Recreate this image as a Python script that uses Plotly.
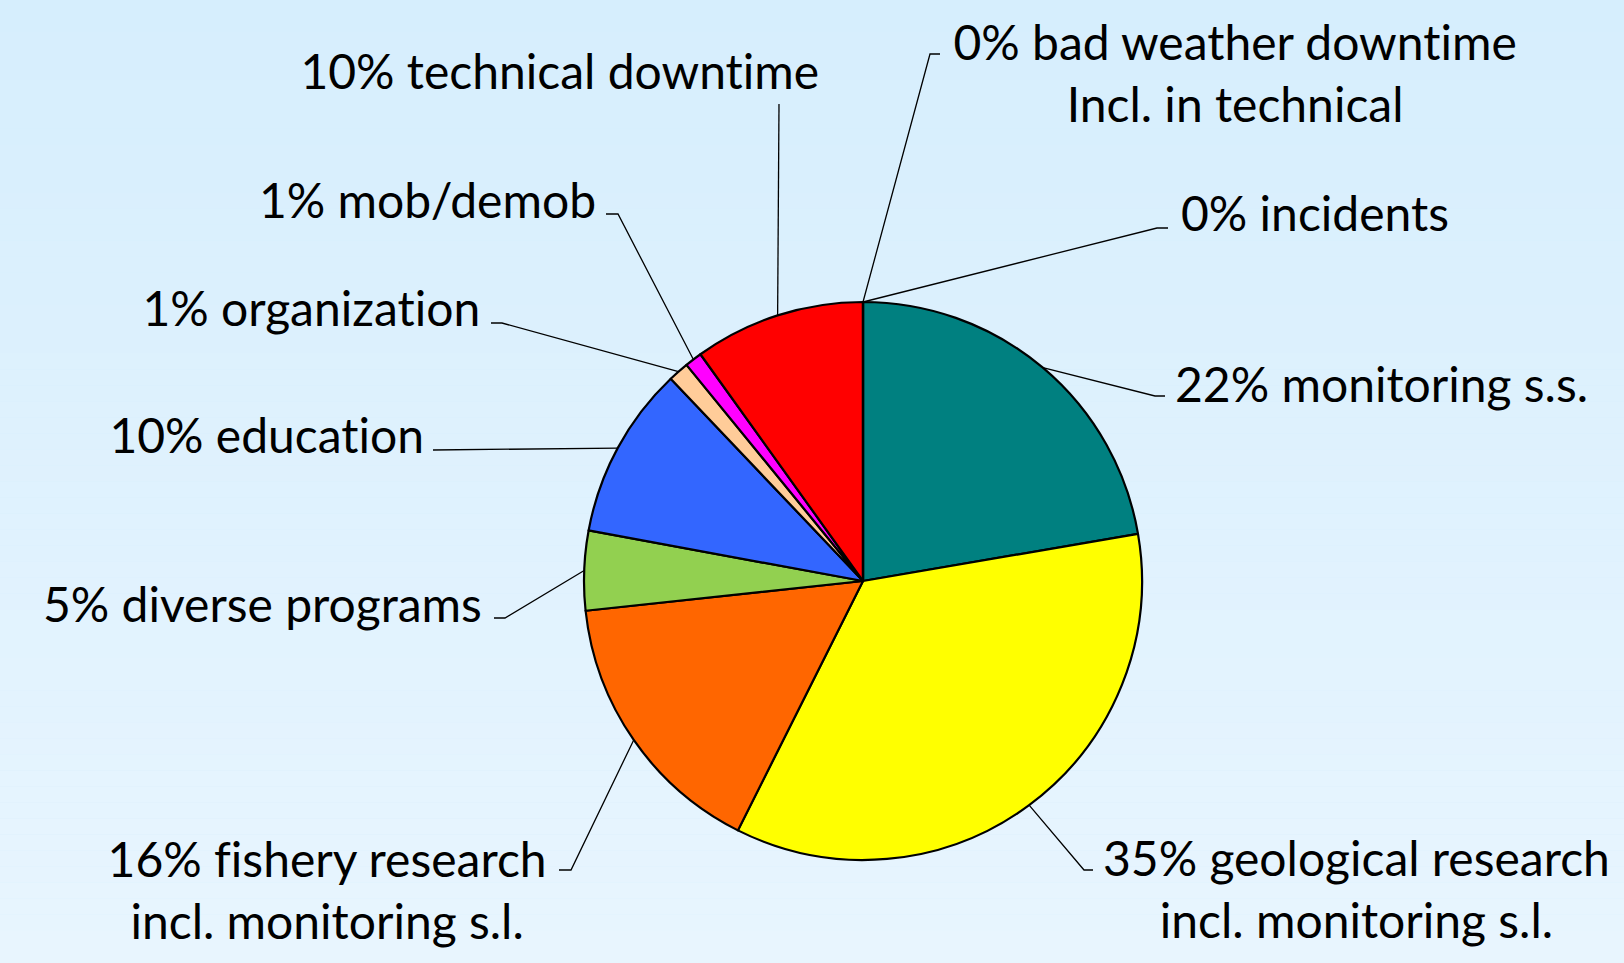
import math
import plotly.graph_objects as go

# ---- data ----
names = ["monitoring s.s.", "geological research<br>incl. monitoring s.l.",
         "fishery research<br>incl. monitoring s.l.", "diverse programs", "education",
         "organization", "mob/demob", "technical downtime",
         "bad weather downtime<br>Incl. in technical", "incidents"]
values = [22.3, 35.1, 15.9, 4.6, 10.0, 1.2, 1.0, 9.9, 0.0, 0.0]
colors = ["#008080", "#FFFF00", "#FF6600", "#92D050", "#3366FF",
          "#FFCC99", "#FF00FF", "#FF0000", "#FFFFFF", "#FFFFFF"]

# ---- layout constants (pixel space) ----
W, H = 1624, 963
CX, CY, R = 863, 581, 279
FONT = dict(family="Lato, Noto Sans, sans-serif", size=48, color="black")

# label anchor (x, y-middle, xanchor) and leader elbow/end points per slice
label_pos = [
    (1173, 383, "left"), (1356, 888, "center"), (327, 889, "center"),
    (484, 603, "right"), (426, 434, "right"), (483, 307, "right"),
    (598, 199, "right"), (560, 70, "center"), (1235, 72, "center"),
    (1179, 212, "left"),
]
leader_pts = [
    [(1155, 396), (1165, 396)], [(1084, 870), (1093, 870)],
    [(571, 870), (559, 870)], [(505, 618), (494, 618)],
    [(433, 450)], [(502, 323), (491, 323)],
    [(618, 214), (606, 214)], [(779, 104)],
    [(930, 54), (940, 54)], [(1157, 228), (1168, 228)],
]

fig = go.Figure()

# gradient background bands
top = (214, 238, 253)
bot = (232, 245, 254)
n = 60
for i in range(n):
    t = i / (n - 1)
    c = tuple(round(top[k] + (bot[k] - top[k]) * t) for k in range(3))
    fig.add_shape(type="rect", xref="paper", yref="paper", x0=0, x1=1,
                  y0=1 - (i + 1) / n, y1=1 - i / n, layer="below",
                  line=dict(width=0), fillcolor="rgb(%d,%d,%d)" % c)

fig.add_trace(go.Pie(
    labels=names, values=values, sort=False, direction="clockwise", rotation=0,
    marker=dict(colors=colors, line=dict(color="black", width=2.2)),
    textinfo="none", hoverinfo="label+percent", showlegend=False,
    domain=dict(x=[(CX - R) / W, (CX + R) / W], y=[1 - (CY + R) / H, 1 - (CY - R) / H]),
))

total = sum(values)
cum = 0.0
for i, v in enumerate(values):
    mid = (cum + v / 2) / total * 2 * math.pi
    cum += v
    sx = CX + R * math.sin(mid)
    sy = CY - R * math.cos(mid)
    pts = [(sx, sy)] + leader_pts[i]
    fig.add_trace(go.Scatter(x=[p[0] for p in pts], y=[p[1] for p in pts], mode="lines",
                             line=dict(color="black", width=1.3), hoverinfo="skip",
                             showlegend=False, xaxis="x", yaxis="y"))
    pct = round(v)
    lx, ly, xa = label_pos[i]
    fig.add_annotation(x=lx, y=ly, xref="x", yref="y", text="%d%% %s" % (pct, names[i]),
                       showarrow=False, xanchor=xa, yanchor="middle",
                       align="center", font=FONT)

fig.update_layout(
    width=W, height=H, margin=dict(l=0, r=0, t=0, b=0),
    paper_bgcolor="#d6eefd", plot_bgcolor="rgba(0,0,0,0)",
    xaxis=dict(range=[0, W], visible=False, domain=[0, 1], fixedrange=True),
    yaxis=dict(range=[H, 0], visible=False, domain=[0, 1], fixedrange=True),
)
fig.write_html(
    "out.html",
    config={"displayModeBar": False},
    post_script=(
        "document.body.style.margin='0';document.body.style.overflow='hidden';"
        "var s=document.createElement('style');"
        "s.textContent='text{font-variant-ligatures:none !important;font-feature-settings:\"liga\" 0 !important;}';"
        "document.head.appendChild(s);"
    ),
)
